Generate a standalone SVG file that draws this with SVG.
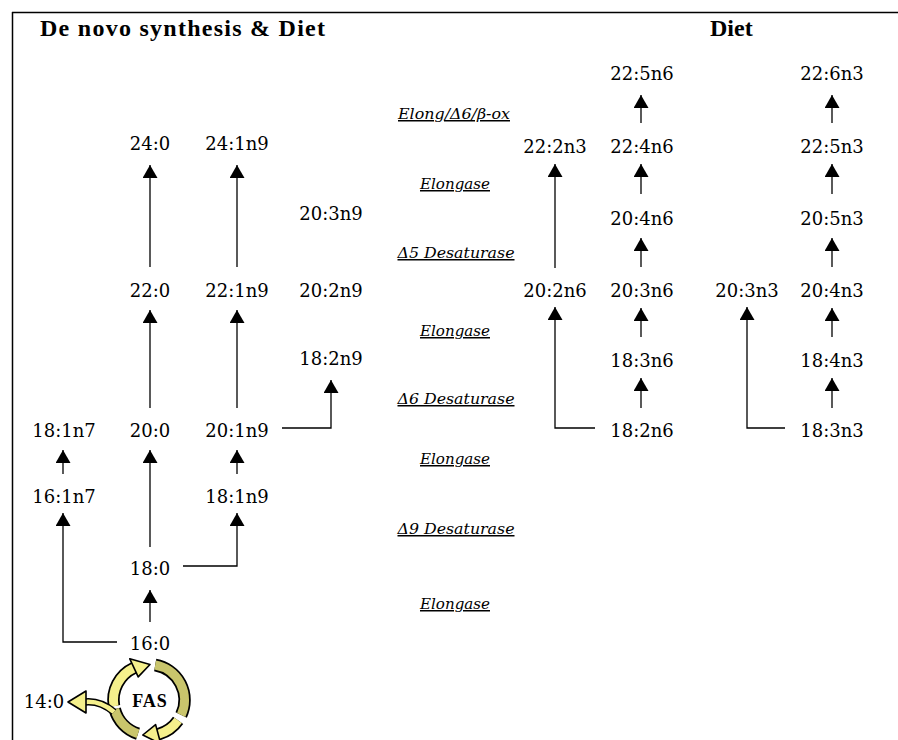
<svg xmlns="http://www.w3.org/2000/svg" width="898" height="740" viewBox="0 0 898 740">
<style>
.n{font-family:"DejaVu Serif",serif;font-size:18px;text-anchor:middle;fill:#000}
.e{font-family:"DejaVu Serif",serif;font-style:italic;font-size:15px;text-anchor:middle;text-decoration:underline;fill:#000}
.t{font-family:"Liberation Serif","Times New Roman",serif;font-weight:bold;font-size:24px;fill:#000}
.c{fill:none;stroke:#000;stroke-width:1.3}
.a{marker-end:url(#ah)}
.bk{fill:none;stroke:#000;stroke-width:12.5}
.yl{fill:none;stroke:#f5f08c;stroke-width:9}
.ol{fill:none;stroke:#c9c56c;stroke-width:9}
.hy{fill:#f5f08c;stroke:#000;stroke-width:1.6;stroke-linejoin:round}
</style>
<defs>
<marker id="ah" viewBox="0 0 13 15" refX="13" refY="7.5" markerWidth="13" markerHeight="15" markerUnits="userSpaceOnUse" orient="auto">
<path d="M0,0 L13,7.5 L0,15 z" fill="#000"/>
</marker>
</defs>
<rect width="898" height="740" fill="#fff"/>
<g id="frame" stroke="#000" stroke-width="1.5">
<line x1="12" y1="12.5" x2="898" y2="12.5"/>
<line x1="12.5" y1="12" x2="12.5" y2="740"/>
</g>
<g id="titles">
<text class="t" x="40" y="36" textLength="285" lengthAdjust="spacing">De novo synthesis &amp; Diet</text>
<text class="t" x="710" y="36">Diet</text>
</g>
<g id="enzymes">
<text class="e" x="454" y="119" textLength="112" lengthAdjust="spacingAndGlyphs">Elong/Δ6/β-ox</text>
<text class="e" x="455" y="189" textLength="70" lengthAdjust="spacingAndGlyphs">Elongase</text>
<text class="e" x="456" y="258" textLength="117" lengthAdjust="spacingAndGlyphs">Δ5 Desaturase</text>
<text class="e" x="455" y="336" textLength="70" lengthAdjust="spacingAndGlyphs">Elongase</text>
<text class="e" x="456" y="404" textLength="117" lengthAdjust="spacingAndGlyphs">Δ6 Desaturase</text>
<text class="e" x="455" y="464" textLength="70" lengthAdjust="spacingAndGlyphs">Elongase</text>
<text class="e" x="456" y="534" textLength="117" lengthAdjust="spacingAndGlyphs">Δ9 Desaturase</text>
<text class="e" x="455" y="609" textLength="70" lengthAdjust="spacingAndGlyphs">Elongase</text>
</g>
<g id="connectors">
<path class="c a" d="M150,267 V165"/>
<path class="c a" d="M237,267 V165"/>
<path class="c a" d="M150,408 V310"/>
<path class="c a" d="M237,408 V310"/>
<path class="c a" d="M282,428 H331 V380"/>
<path class="c a" d="M237,474 V450"/>
<path class="c a" d="M63,474 V450"/>
<path class="c a" d="M150,547 V450"/>
<path class="c a" d="M183,566 H237 V513"/>
<path class="c a" d="M150,622 V590"/>
<path class="c a" d="M117,642 H63 V513"/>
<path class="c a" d="M555,268 V164"/>
<path class="c a" d="M641,123 V95"/>
<path class="c a" d="M641,194 V164"/>
<path class="c a" d="M641,267 V238"/>
<path class="c a" d="M641,337 V308"/>
<path class="c a" d="M641,408 V378"/>
<path class="c a" d="M595,428 H555 V307"/>
<path class="c a" d="M785,428 H747 V307"/>
<path class="c a" d="M832,408 V378"/>
<path class="c a" d="M832,337 V308"/>
<path class="c a" d="M832,267 V238"/>
<path class="c a" d="M832,194 V164"/>
<path class="c a" d="M832,123 V95"/>
</g>
<g id="n-24-0"><text class="n" x="150" y="150">24:0</text></g>
<g id="n-24-1n9"><text class="n" x="237" y="150">24:1n9</text></g>
<g id="n-22-0"><text class="n" x="150" y="297">22:0</text></g>
<g id="n-22-1n9"><text class="n" x="237" y="297">22:1n9</text></g>
<g id="n-20-0"><text class="n" x="150" y="437">20:0</text></g>
<g id="n-20-1n9"><text class="n" x="237" y="437">20:1n9</text></g>
<g id="n-18-1n7"><text class="n" x="64" y="437">18:1n7</text></g>
<g id="n-16-1n7"><text class="n" x="64" y="503">16:1n7</text></g>
<g id="n-18-1n9"><text class="n" x="237" y="503">18:1n9</text></g>
<g id="n-18-0"><text class="n" x="150" y="575">18:0</text></g>
<g id="n-16-0"><text class="n" x="150" y="650">16:0</text></g>
<g id="n-14-0"><text class="n" x="44" y="708">14:0</text></g>
<g id="n-20-3n9"><text class="n" x="331" y="220">20:3n9</text></g>
<g id="n-20-2n9"><text class="n" x="331" y="297">20:2n9</text></g>
<g id="n-18-2n9"><text class="n" x="331" y="365">18:2n9</text></g>
<g id="n-22-2n3"><text class="n" x="555" y="153">22:2n3</text></g>
<g id="n-20-2n6"><text class="n" x="555" y="297">20:2n6</text></g>
<g id="n-22-5n6"><text class="n" x="642" y="80">22:5n6</text></g>
<g id="n-22-4n6"><text class="n" x="642" y="153">22:4n6</text></g>
<g id="n-20-4n6"><text class="n" x="642" y="225">20:4n6</text></g>
<g id="n-20-3n6"><text class="n" x="642" y="297">20:3n6</text></g>
<g id="n-18-3n6"><text class="n" x="642" y="367">18:3n6</text></g>
<g id="n-18-2n6"><text class="n" x="642" y="437">18:2n6</text></g>
<g id="n-20-3n3"><text class="n" x="747" y="297">20:3n3</text></g>
<g id="n-22-6n3"><text class="n" x="832" y="80">22:6n3</text></g>
<g id="n-22-5n3"><text class="n" x="832" y="153">22:5n3</text></g>
<g id="n-20-5n3"><text class="n" x="832" y="225">20:5n3</text></g>
<g id="n-20-4n3"><text class="n" x="832" y="297">20:4n3</text></g>
<g id="n-18-4n3"><text class="n" x="832" y="367">18:4n3</text></g>
<g id="n-18-3n3"><text class="n" x="832" y="437">18:3n3</text></g>
<g id="fas">
<path class="bk" d="M155.2,665 A35.5,35.5 0 0 1 181.2,715"/>
<path class="ol" d="M155.2,665 A35.5,35.5 0 0 1 181.2,715"/>
<path class="bk" d="M178.1,720.4 A35.5,35.5 0 0 1 158.2,734.3"/>
<path class="yl" d="M178.1,720.4 A35.5,35.5 0 0 1 158.2,734.3"/>
<polygon class="hy" points="155.6,724.6 160.8,743.9 142.8,735"/>
<path class="bk" d="M138,733.8 A35.5,35.5 0 0 1 114.7,709.2"/>
<path class="ol" d="M138,733.8 A35.5,35.5 0 0 1 114.7,709.2"/>
<path class="bk" d="M114,706.2 A35.5,35.5 0 0 1 134,667.8"/>
<path class="yl" d="M114,706.2 A35.5,35.5 0 0 1 134,667.8"/>
<polygon class="hy" points="138.2,676.9 129.8,658.8 150,664.5"/>
<path d="M114,712 Q100,700 84,702" fill="none" stroke="#000" stroke-width="7.5"/>
<path d="M114,712 Q100,700 84,702" fill="none" stroke="#f5f08c" stroke-width="4.5"/>
<polygon class="hy" points="86,691 86,713 68,702"/>
<text x="150" y="707" font-family="Liberation Serif, serif" font-weight="bold" font-size="18" letter-spacing="1" text-anchor="middle">FAS</text>
</g>
</svg>
